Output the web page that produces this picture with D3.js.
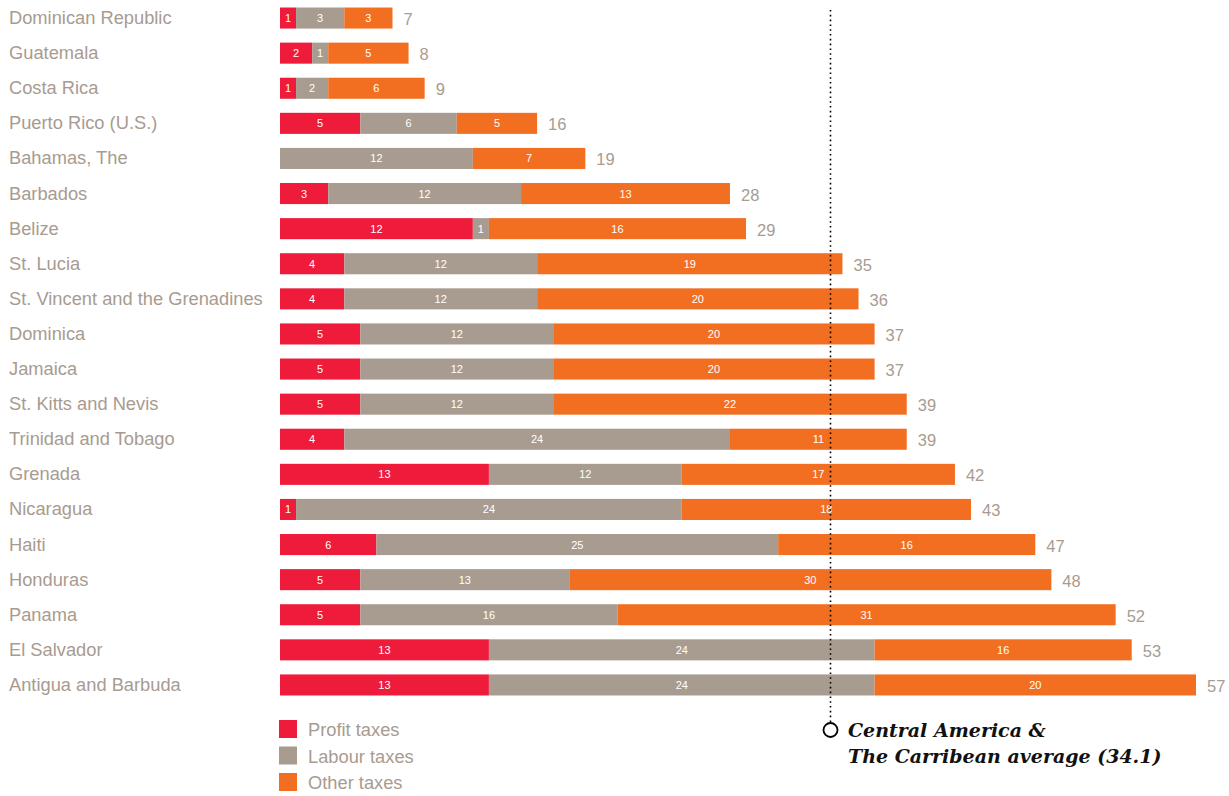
<!DOCTYPE html>
<html><head><meta charset="utf-8">
<script src="https://cdn.jsdelivr.net/npm/d3@7"></script>
<style>body{margin:0;background:#fff}svg{display:block}</style>
</head><body>
<svg id="c" width="1229" height="796"></svg>
<script>
const countries = ["Dominican Republic","Guatemala","Costa Rica","Puerto Rico (U.S.)","Bahamas, The","Barbados","Belize","St. Lucia","St. Vincent and the Grenadines","Dominica","Jamaica","St. Kitts and Nevis","Trinidad and Tobago","Grenada","Nicaragua","Haiti","Honduras","Panama","El Salvador","Antigua and Barbuda"];
const profitTaxes = [1,2,1,5,0,3,12,4,4,5,5,5,4,13,1,6,5,5,13,13];
const labourTaxes = [3,1,2,6,12,12,1,12,12,12,12,12,24,12,24,25,13,16,24,24];
const otherTaxes  = [3,5,6,5,7,13,16,19,20,20,20,22,11,17,18,16,30,31,16,20];
const totals      = [7,8,9,16,19,28,29,35,36,37,37,39,39,42,43,47,48,52,53,57];
const seriesNames = ["Profit taxes","Labour taxes","Other taxes"];
const average = 34.1;
const averageLabel = ["Central America &","The Carribean average (34.1)"];

const colors = ["#ee1b3b","#a89b90","#f26f22"];
const svg = d3.select("#c");
const x = d3.scaleLinear().domain([0,57]).range([280,1196]);
const y = d3.scaleBand().domain(countries).range([0.5,702.5]).paddingInner(0.4).paddingOuter(0.2);

const data = countries.map((c,i)=>({country:c, p:profitTaxes[i], l:labourTaxes[i], o:otherTaxes[i], total:totals[i]}));
const stack = d3.stack().keys(["p","l","o"])(data);

stack.forEach((layer,k)=>{
  const g = svg.append("g");
  g.selectAll("rect").data(layer).join("rect")
    .attr("x",d=>x(d[0])).attr("width",d=>Math.max(0,x(d[1])-x(d[0])))
    .attr("y",d=>y(d.data.country)).attr("height",y.bandwidth())
    .attr("fill",colors[k]);
  g.selectAll("text").data(layer.filter(d=>d[1]-d[0]>0)).join("text")
    .attr("x",d=>(x(d[0])+x(d[1]))/2).attr("y",d=>y(d.data.country)+y.bandwidth()/2+4)
    .attr("text-anchor","middle").attr("fill","#fff")
    .attr("font-family","Liberation Sans, Arial, sans-serif").attr("font-size",11)
    .text(d=>d[1]-d[0]);
});

// country labels
svg.append("g").selectAll("text").data(countries).join("text")
  .attr("x",9).attr("y",d=>y(d)+y.bandwidth()/2+6)
  .attr("fill","#a89b90").attr("font-family","Liberation Sans, Arial, sans-serif").attr("font-size",18.3)
  .text(d=>d);

// totals
svg.append("g").selectAll("text").data(data).join("text")
  .attr("x",d=>x(d.total)+11).attr("y",d=>y(d.country)+y.bandwidth()/2+7)
  .attr("fill","#a89b90").attr("font-family","Liberation Sans, Arial, sans-serif").attr("font-size",16.5)
  .text(d=>d.total);

// average line
const ax = Math.round(x(average))+2.5;
svg.append("line").attr("x1",ax).attr("x2",ax).attr("y1",10).attr("y2",722)
  .attr("stroke","#000").attr("stroke-width",1.6).attr("stroke-dasharray","1.6,3.2");
svg.append("circle").attr("cx",ax).attr("cy",730).attr("r",7)
  .attr("fill","#fff").attr("stroke","#000").attr("stroke-width",1.8);
svg.append("g").selectAll("text").data(averageLabel).join("text")
  .attr("x",848).attr("y",(d,i)=>737+i*26)
  .attr("font-family","DejaVu Serif, serif").attr("font-weight","bold").attr("font-style","italic")
  .attr("font-size",19).attr("fill","#111")
  .text(d=>d);

// legend
const lg = svg.append("g").selectAll("g").data(seriesNames).join("g")
  .attr("transform",(d,i)=>`translate(279,${720+i*26.5})`);
lg.append("rect").attr("width",18).attr("height",18).attr("fill",(d,i)=>colors[i]);
lg.append("text").attr("x",29).attr("y",16).attr("fill","#a89b90")
  .attr("font-family","Liberation Sans, Arial, sans-serif").attr("font-size",18.3).text(d=>d);
</script>
</body></html>
